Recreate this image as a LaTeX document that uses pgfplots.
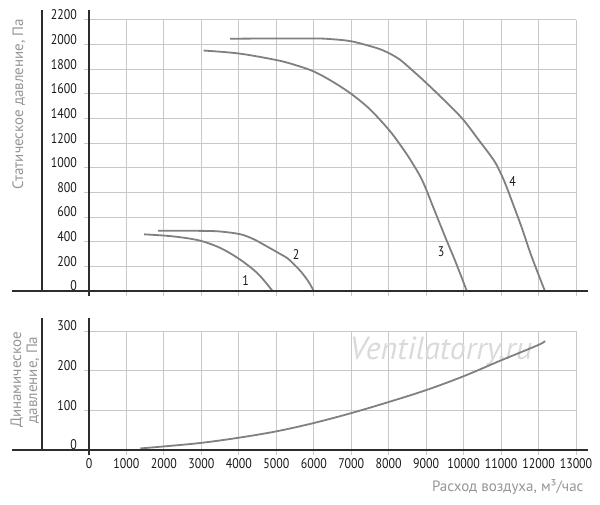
\documentclass[border=0pt]{standalone}
\usepackage{fontspec}
\setmainfont{PT Sans}
\newfontfamily\condfont[FakeStretch=0.85]{PT Sans}
\usepackage{pgfplots}
\pgfplotsset{compat=1.18}
\definecolor{gridgray}{RGB}{200,200,200}
\definecolor{curvegray}{RGB}{128,128,128}
\definecolor{axisblack}{RGB}{45,45,45}
\definecolor{titlegray}{RGB}{150,150,150}
\definecolor{ticktext}{RGB}{25,25,25}
\definecolor{wmgray}{RGB}{218,218,218}

\pgfplotstableread{
x y
1470 460
2000 450
2500 434
3000 406
3500 350
4000 262
4500 143
4900 0
}\curveA
\pgfplotstableread{
x y
1840 489
2500 489
3240 487
3600 480
4050 460
4400 420
4760 360
5050 310
5300 265
5500 208
5660 157
5850 80
6000 0
}\curveB
\pgfplotstableread{
x y
3060 1952
4000 1928
5000 1875
5500 1835
6000 1782
6500 1700
7000 1600
7500 1475
8000 1310
8300 1190
8600 1055
8900 895
9200 672
9500 445
9800 225
10085 0
}\curveC
\pgfplotstableread{
x y
3770 2048
5000 2050
6000 2050
6400 2046
7000 2027
7670 1973
8000 1932
8300 1878
8600 1800
9000 1690
9620 1508
10000 1387
10400 1227
10800 1064
10970 969
11110 873
11330 697
11550 516
11770 318
11990 140
12170 0
}\curveD
\pgfplotstableread{
x y
1370 4
2000 9
3000 18
4000 31
5000 47
6000 68
7000 93
8000 121
9000 151
10000 186
11000 226
12000 265
12170 275
}\curveDyn

\pgfplotsset{
  panel/.style={
    scale only axis, width=487pt,
    xmin=0, xmax=13000,
    xtick={0,1000,...,13000},
    scaled x ticks=false, scaled y ticks=false,
    grid=major, grid style={gridgray, line width=1pt},
    axis line style={draw=none},
    tick align=outside, major tick length=5pt,
    tick style={gridgray, line width=1pt},
    xtick pos=bottom, ytick pos=left,
    /pgf/number format/assume math mode=true,
    /pgf/number format/1000 sep={},
    yticklabel style={font=\condfont\fontsize{14}{14}\selectfont, text=ticktext, anchor=east, inner sep=0pt, xshift=-7pt, yshift=5pt},
    xticklabel style={font=\condfont\fontsize{14}{14}\selectfont, text=ticktext, inner sep=0pt, yshift=-3pt},
    clip=false,
  },
  curve/.style={curvegray, line width=1.8pt, smooth, tension=0.55, no markers},
}

\begin{document}
\begin{tikzpicture}
\useasboundingbox (0,0) rectangle (600pt,-505pt);

% top panel: static pressure
\begin{axis}[panel,
  at={(89pt,-291pt)}, anchor=south west, height=271pt,
  ymin=0, ymax=2200, ytick={0,200,...,2200},
  xticklabels={},
]
\addplot[curve] table[x=x,y=y] {\curveA};
\addplot[curve] table[x=x,y=y] {\curveB};
\addplot[curve] table[x=x,y=y] {\curveC};
\addplot[curve] table[x=x,y=y] {\curveD};
\draw[axisblack, line width=1.3pt] (rel axis cs:-0.1581,0) -- (rel axis cs:1.0246,0);
\draw[axisblack, line width=1.3pt] (rel axis cs:0,-0.0185) -- (rel axis cs:0,1.0369);
\draw[axisblack, line width=1.3pt] (rel axis cs:-0.0965,0) -- (rel axis cs:-0.0965,1.0369);
\node[font=\condfont\fontsize{14}{14}\selectfont, text=ticktext] at (axis cs:4183,89) {1};
\node[font=\condfont\fontsize{14}{14}\selectfont, text=ticktext] at (axis cs:5526,300) {2};
\node[font=\condfont\fontsize{14}{14}\selectfont, text=ticktext] at (axis cs:9397,317) {3};
\node[font=\condfont\fontsize{14}{14}\selectfont, text=ticktext] at (axis cs:11305,885) {4};
\end{axis}

% bottom panel: dynamic pressure
\begin{axis}[panel,
  at={(89pt,-450pt)}, anchor=south west, height=119pt,
  ymin=0, ymax=300, ytick={0,100,200,300},
]
\node[font=\fontsize{32}{32}\selectfont\itshape, text=wmgray] at (rel axis cs:0.7228,0.832) {Ventilatorry.ru};
\addplot[curve] table[x=x,y=y] {\curveDyn};
\draw[axisblack, line width=1.3pt] (rel axis cs:-0.1581,0) -- (rel axis cs:1.0246,0);
\draw[axisblack, line width=1.3pt] (rel axis cs:0,-0.042) -- (rel axis cs:0,1.109);
\draw[axisblack, line width=1.3pt] (rel axis cs:-0.0965,0) -- (rel axis cs:-0.0965,1.109);
\end{axis}

% axis titles
\node[rotate=90, text=titlegray, font=\fontsize{15}{15}\selectfont] at (19pt,-104pt) {Статическое давление, Па};
\node[rotate=90, text=titlegray, font=\fontsize{15}{16}\selectfont, align=center] at (25pt,-380pt) {Динамическое\\давление, Па};
\node[anchor=east, text=titlegray, font=\fontsize{15}{15}\selectfont] at (587pt,-487pt) {Расход воздуха, м³/час};
\end{tikzpicture}
\end{document}
